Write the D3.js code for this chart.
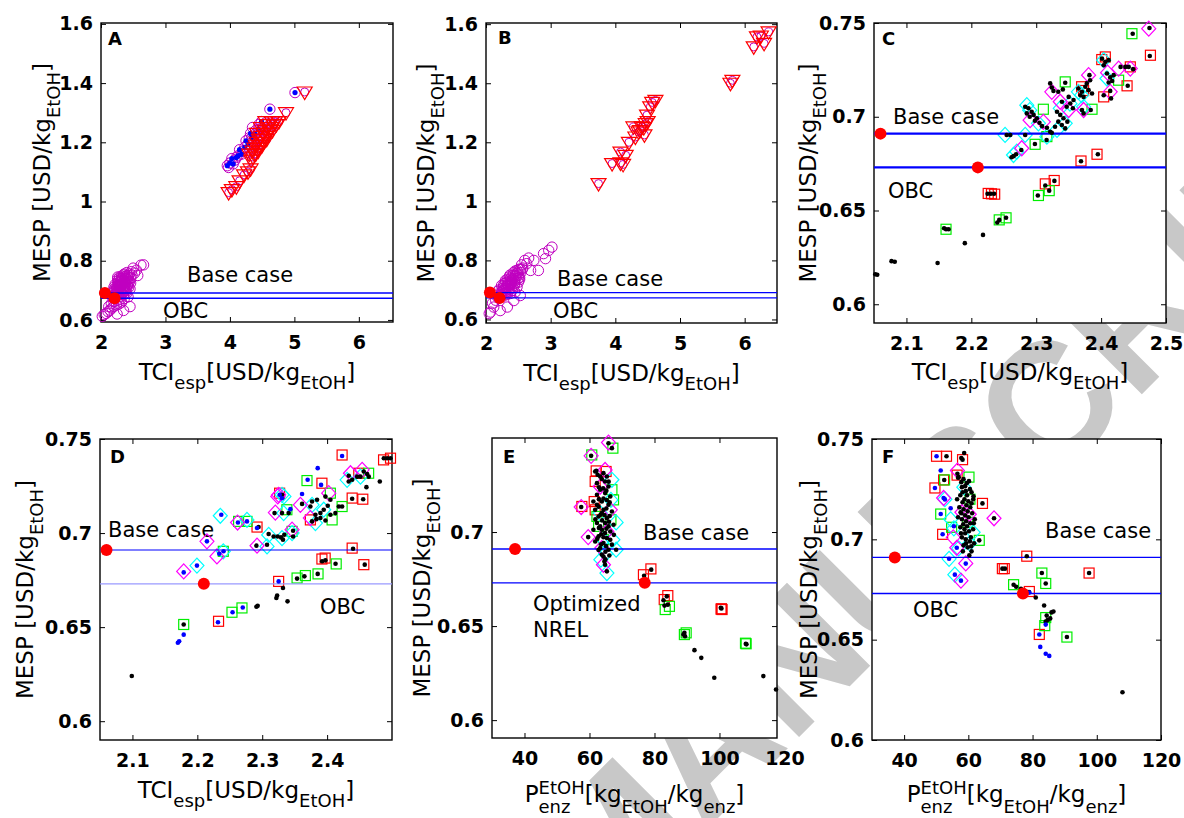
<!DOCTYPE html>
<html>
<head>
<meta charset="utf-8">
<script src="https://cdn.jsdelivr.net/npm/d3@7/dist/d3.min.js"></script>
<style>
body { margin: 0; background: #fff; }
text { font-family: "DejaVu Sans", sans-serif; }
.tick text { font-family: "DejaVu Sans", sans-serif !important; font-size: 19px !important; font-weight: bold !important; }
</style>
</head>
<body>
<script>
// reference cases: base case and optimized base case (OBC)
var mespRef = [0.691, 0.673];
var tciRef = [2.06, 2.21];
var penzRef = [37.1, 77];

// tick values
var tciTicksWide = [2, 3, 4, 5, 6];
var mespTicksWide = [0.6, 0.8, 1, 1.2, 1.4, 1.6];
var tciTicksC = [2.1, 2.2, 2.3, 2.4, 2.5];
var tciTicksD = [2.1, 2.2, 2.3, 2.4];
var mespTicksNarrow = [0.6, 0.65, 0.7, 0.75];
var mespTicksE = [0.6, 0.65, 0.7];
var penzTicks = [40, 60, 80, 100, 120];

// panel A  [TCI, MESP]
var aCirclesLow = [[2.02,0.612],[2.05,0.618],[2.08,0.622],[2.11,0.628],[2.14,0.633],[2.17,0.64],[2.2,0.646],[2.24,0.65],[2.28,0.654],[2.32,0.66],[2.12,0.645],[2.16,0.655],[2.2,0.662],[2.25,0.666],[2.3,0.67],[2.36,0.672],[2.42,0.678],[2.18,0.676],[2.22,0.682],[2.27,0.686],[2.32,0.689],[2.38,0.692],[2.2,0.694],[2.25,0.699],[2.3,0.703],[2.35,0.706],[2.4,0.708],[2.24,0.71],[2.28,0.714],[2.33,0.718],[2.38,0.721],[2.43,0.724],[2.27,0.726],[2.31,0.73],[2.36,0.734],[2.41,0.737],[2.46,0.74],[2.33,0.742],[2.38,0.746],[2.43,0.75],[2.48,0.752],[2.52,0.758],[2.47,0.763],[2.55,0.768],[2.5,0.775],[2.62,0.785],[2.22,0.72],[2.26,0.738],[2.45,0.705],[2.4,0.69],[2.35,0.685],[2.3,0.695],[2.34,0.725],[2.29,0.745],[2.44,0.73],[2.25,0.62],[2.35,0.632],[2.45,0.645],[2.57,0.75],[2.66,0.786],
  [2.21,0.705],[2.23,0.69],[2.26,0.715],[2.29,0.708],[2.31,0.722],[2.33,0.7],[2.36,0.716],[2.37,0.728],[2.39,0.74],[2.41,0.715],[2.34,0.736],[2.27,0.695],[2.24,0.678],[2.3,0.68],[2.42,0.744],[2.44,0.755],[2.4,0.76],[2.35,0.752],[2.28,0.735],[2.32,0.748],[2.26,0.73],[2.2,0.71],[2.38,0.7],[2.43,0.71],[2.46,0.725],
  [2.22,0.7],[2.25,0.705],[2.28,0.71],[2.31,0.715],[2.34,0.71],[2.37,0.71],[2.35,0.73],[2.32,0.74],[2.3,0.72],[2.27,0.72],[2.24,0.69],[2.29,0.69],[2.33,0.69],[2.36,0.695],[2.39,0.73],[2.42,0.735],[2.36,0.755],[2.4,0.75],[2.3,0.73],[2.26,0.745]];
var aCirclesHigh = [[3.96,1.121],[3.98,1.115],[4.0,1.13],[4.05,1.127],[4.03,1.145],[4.08,1.14],[4.1,1.149],[4.13,1.155],[4.18,1.16],[4.15,1.175],[4.2,1.17],[4.23,1.183],[4.28,1.194],[4.25,1.205],[4.3,1.215],[4.34,1.216],[4.32,1.23],[4.39,1.228],[4.35,1.25],[4.4,1.24],[4.44,1.244],[4.45,1.26],[4.49,1.27],[4.62,1.312],[5.01,1.368]];
var aBlue = [[3.96,1.121],[4.0,1.13],[4.05,1.127],[4.03,1.145],[4.1,1.149],[4.13,1.155],[4.18,1.16],[4.15,1.175],[4.23,1.183],[4.28,1.194],[4.25,1.205],[4.34,1.216],[4.32,1.23],[4.39,1.228],[4.44,1.244],[4.49,1.27],[4.62,1.312],[5.01,1.368]];
var aTri = [[3.98,1.03],[4.03,1.04],[4.1,1.05],[4.15,1.07],[4.22,1.09],[4.28,1.1],[4.32,1.11],[4.3,1.16],[4.35,1.17],[4.38,1.18],[4.4,1.19],[4.42,1.2],[4.45,1.21],[4.48,1.22],[4.5,1.21],[4.52,1.23],[4.55,1.24],[4.58,1.25],[4.6,1.26],[4.65,1.27],[4.7,1.27],[4.45,1.18],[4.38,1.16],[4.5,1.19],[4.55,1.22],[4.62,1.24],[4.68,1.26],[4.42,1.23],[4.48,1.25],[4.55,1.27],[4.87,1.3],[5.16,1.37],
  [4.33,1.14],[4.36,1.15],[4.4,1.16],[4.44,1.17],[4.47,1.19],[4.52,1.2],[4.57,1.21],[4.6,1.23],[4.64,1.25],[4.72,1.26],[4.76,1.27],[4.66,1.24]];

// panel B
var bCircles = [[2.05,0.62],[2.07,0.625],[2.12,0.642],[2.22,0.63],[2.33,0.642],[2.43,0.664],[2.53,0.681],[2.1,0.655],[2.15,0.665],[2.2,0.672],[2.26,0.678],[2.32,0.684],[2.38,0.688],[2.45,0.692],[2.18,0.686],[2.24,0.692],[2.3,0.697],[2.36,0.702],[2.42,0.706],[2.2,0.7],[2.26,0.706],[2.32,0.712],[2.38,0.718],[2.44,0.722],[2.5,0.726],[2.28,0.722],[2.34,0.728],[2.4,0.733],[2.46,0.738],[2.52,0.742],[2.36,0.744],[2.42,0.75],[2.48,0.755],[2.54,0.759],[2.45,0.764],[2.51,0.77],[2.57,0.774],[2.55,0.785],[2.63,0.789],[2.69,0.766],[2.74,0.8],[2.81,0.766],[2.89,0.823],[2.92,0.806],[2.97,0.834],[3.02,0.845],[2.6,0.8],[2.66,0.808],[2.3,0.69],[2.4,0.698],[2.48,0.71],
  [2.22,0.68],[2.28,0.688],[2.34,0.694],[2.26,0.698],[2.3,0.706],[2.36,0.712],[2.4,0.726],[2.44,0.73],[2.3,0.732],[2.38,0.74],[2.46,0.746],[2.5,0.75],[2.42,0.758],[2.48,0.766],[2.56,0.77],[2.24,0.715],[2.34,0.72],[2.18,0.695],[2.16,0.68],[2.52,0.735],
  [2.24,0.684],[2.28,0.7],[2.32,0.705],[2.35,0.716],[2.38,0.724],[2.42,0.738],[2.45,0.75],[2.49,0.76],[2.33,0.736],[2.37,0.75],[2.4,0.71],[2.44,0.716],[2.27,0.714],[2.31,0.725],[2.53,0.77],[2.5,0.74]];
var bTri = [[3.74,1.06],[3.95,1.128],[4.08,1.13],[4.12,1.125],[4.08,1.167],[4.16,1.156],[4.21,1.2],[4.31,1.218],[4.28,1.252],[4.36,1.235],[4.41,1.252],[4.38,1.24],[4.47,1.263],[4.44,1.25],[4.5,1.27],[4.49,1.292],[4.54,1.32],[4.62,1.342],[4.57,1.335],[4.45,1.225],[5.78,1.4],[5.81,1.41],[6.14,1.523],[6.19,1.557],[6.3,1.535],[6.37,1.574],[6.25,1.56]];

// panel C  [TCI, MESP]
var cBlack = [[2.052,0.616],[2.055,0.6157],[2.077,0.623],[2.082,0.6227],[2.148,0.622],[2.19,0.6326],[2.218,0.637],[2.161,0.64],[2.165,0.64],[2.158,0.6405],[2.225,0.6589],[2.23,0.6589],[2.235,0.6589],[2.24,0.6436],[2.243,0.645],[2.2535,0.6461],[2.3025,0.658],[2.314,0.6633],[2.32,0.6606],[2.328,0.6658],[2.369,0.6763],[2.395,0.68],[2.2545,0.6903],[2.26,0.6903],[2.265,0.679],[2.262,0.6784],[2.269,0.68],[2.277,0.6823],[2.283,0.6903],[2.298,0.6855],[2.316,0.6876],[2.324,0.6915],[2.283,0.7053],[2.288,0.7045],[2.293,0.7027],[2.296,0.701],[2.301,0.6992],[2.305,0.6968],[2.309,0.695],[2.298,0.6979],[2.29,0.7],[2.2855,0.7018],[2.3215,0.7178],[2.324,0.7156],[2.3266,0.7138],[2.334,0.7133],[2.341,0.7146],[2.3447,0.7181],[2.332,0.7027],[2.337,0.701],[2.342,0.6992],[2.348,0.6974],[2.3395,0.6956],[2.3447,0.6938],[2.334,0.6974],[2.329,0.6947],[2.3215,0.692],[2.3165,0.6941],[2.3396,0.708],[2.347,0.7053],[2.3525,0.7071],[2.3565,0.7045],[2.3575,0.7089],[2.35,0.7106],[2.365,0.7151],[2.3705,0.7133],[2.3756,0.716],[2.3807,0.7142],[2.386,0.7124],[2.368,0.7115],[2.373,0.7106],[2.378,0.7178],[2.383,0.7195],[2.3705,0.7036],[2.373,0.7018],[2.384,0.7036],[2.382,0.7222],[2.4014,0.731],[2.4065,0.7293],[2.4116,0.7302],[2.404,0.7275],[2.409,0.7231],[2.414,0.721],[2.417,0.7191],[2.4116,0.7183],[2.4193,0.7222],[2.414,0.7138],[2.4153,0.7098],[2.404,0.7115],[2.43,0.7266],[2.4374,0.7266],[2.4425,0.7266],[2.4493,0.7254],[2.441,0.7165],[2.4487,0.7443],[2.4745,0.7473],[2.475,0.7324]];
var cGreen = [[2.161,0.64],[2.243,0.645],[2.2535,0.6461],[2.3034,0.658],[2.32,0.6606],[2.2983,0.6853],[2.3164,0.6894],[2.3447,0.7186],[2.311,0.704],[2.386,0.704],[2.4475,0.7443],[2.427,0.7195]];
var cRed = [[2.226,0.6591],[2.231,0.6589],[2.236,0.6587],[2.314,0.6642],[2.3277,0.666],[2.369,0.6764],[2.3937,0.68],[2.476,0.7328],[2.44,0.7165],[2.404,0.7106],[2.4065,0.7319],[2.401,0.7305],[2.37,0.716],[2.445,0.7266],[2.373,0.714]];
var cCyan = [[2.252,0.6903],[2.283,0.6903],[2.265,0.6796],[2.27,0.6814],[2.2855,0.7062],[2.29,0.7035],[2.3034,0.6965],[2.3164,0.6894],[2.337,0.7045],[2.3447,0.6965],[2.332,0.693],[2.365,0.7133],[2.37,0.7115],[2.373,0.7053],[2.404,0.7302],[2.409,0.7204],[2.352,0.707]];
var cMag = [[2.2777,0.6832],[2.2906,0.6982],[2.311,0.6973],[2.324,0.7133],[2.337,0.708],[2.35,0.7036],[2.3807,0.7222],[2.427,0.7257],[2.445,0.7257],[2.4734,0.747],[2.414,0.7133],[2.373,0.7036],[2.41,0.7235]];

// panel D  [TCI, MESP]
var dBlack = [[2.099,0.624],[2.179,0.6514],[2.291,0.6608],[2.293,0.6613],[2.3218,0.6655],[2.323,0.6668],[2.332,0.6708],[2.339,0.6637],[2.3537,0.6758],[2.365,0.677],[2.3855,0.6783],[2.3923,0.685],[2.3974,0.6855],[2.413,0.6837],[2.44,0.6917],[2.458,0.6832],[2.291,0.6933],[2.3074,0.6938],[2.3099,0.6995],[2.3176,0.6982],[2.3238,0.6982],[2.329,0.6977],[2.332,0.6965],[2.334,0.6991],[2.3476,0.7012],[2.3476,0.6982],[2.319,0.7106],[2.3305,0.7106],[2.3407,0.7106],[2.3305,0.7203],[2.3614,0.7155],[2.3742,0.7141],[2.3768,0.7168],[2.3845,0.7177],[2.382,0.7097],[2.3897,0.7106],[2.3948,0.7124],[2.401,0.7145],[2.4051,0.7177],[2.3974,0.7194],[2.3768,0.7062],[2.3835,0.7074],[2.3897,0.708],[2.3974,0.7067],[2.4051,0.7097],[2.4128,0.7106],[2.418,0.7141],[2.4231,0.7141],[2.4333,0.7305],[2.4386,0.7283],[2.4333,0.7274],[2.4463,0.73],[2.4514,0.73],[2.4565,0.7327],[2.4617,0.7314],[2.4642,0.73],[2.4606,0.7244],[2.4812,0.7274],[2.4874,0.7398],[2.4925,0.7398],[2.4977,0.7398],[2.4386,0.7182],[2.4556,0.718],[2.2944,0.7032]];
var dBlue = [[2.17,0.6417],[2.172,0.6425],[2.179,0.646],[2.2318,0.6526],[2.2543,0.6579],[2.27,0.6604],[2.179,0.6791],[2.1994,0.6827],[2.2148,0.6956],[2.2369,0.7097],[2.2338,0.689],[2.2404,0.6903],[2.2626,0.7056],[2.2765,0.7062],[2.292,0.7027],[2.3253,0.6743],[2.3269,0.7203],[2.3614,0.7208],[2.37,0.7283],[2.3855,0.7345],[2.3907,0.7256],[2.4231,0.741],[2.3434,0.7127],[2.3305,0.7185]];
var dGreen = [[2.179,0.6514],[2.2534,0.6579],[2.2688,0.6602],[2.2636,0.7062],[2.2765,0.7062],[2.369,0.7279],[2.3537,0.6761],[2.3665,0.6774],[2.386,0.6783],[2.414,0.6836],[2.24,0.6903],[2.4231,0.7141],[2.4077,0.707],[2.464,0.7318],[2.405,0.7212],[2.346,0.7009],[2.338,0.7124]];
var dRed = [[2.2327,0.6531],[2.3253,0.6743],[2.392,0.6862],[2.397,0.6867],[2.4386,0.692],[2.4566,0.6832],[2.4231,0.7415],[2.392,0.7265],[2.4386,0.7186],[2.455,0.718],[2.3268,0.7212],[2.292,0.7032],[2.487,0.7389],[2.4977,0.7398],[2.3742,0.707],[2.4488,0.7318]];
var dCyan = [[2.1994,0.6827],[2.2354,0.7092],[2.24,0.6903],[2.2765,0.707],[2.3074,0.6929],[2.31,0.699],[2.3305,0.6973],[2.333,0.7106],[2.3305,0.7203],[2.346,0.7],[2.3768,0.715],[2.382,0.7053],[2.3948,0.7124],[2.4308,0.7283],[2.4514,0.73],[2.3335,0.7195]];
var dMag = [[2.179,0.6796],[2.2148,0.6956],[2.2302,0.6876],[2.262,0.7056],[2.292,0.6933],[2.3202,0.7109],[2.3253,0.7203],[2.3588,0.715],[2.346,0.7018],[2.4025,0.7212],[2.436,0.7318],[2.454,0.7336],[2.3742,0.708],[2.324,0.7195]];

// panel E  [P_enz, MESP]
var eBlack = [[65.85,0.7472],[66.9,0.7446],[60.5,0.7405],[62.1,0.7325],[57.45,0.7133],[59.6,0.6973],[79.0,0.68],[76.8,0.6768],[82.77,0.6637],[83.08,0.6609],[83.8,0.6658],[84.1,0.6614],[88.9,0.6455],[89.4,0.6446],[89.2,0.6464],[92.3,0.6372],[94.4,0.6331],[98.4,0.6225],[100.4,0.6597],[100.6,0.6594],[108.1,0.6406],[108.3,0.6403],[113.5,0.6234],[117.4,0.6163],[61.75,0.7322],[64.3,0.7313],[65.35,0.7295],[63.3,0.7295],[62.3,0.726],[64.8,0.7269],[65.85,0.7242],[63.3,0.7225],[62.3,0.7198],[64.8,0.7207],[66.4,0.7189],[61.2,0.7162],[63.8,0.7162],[65.85,0.7145],[62.3,0.7145],[61.75,0.7118],[64.3,0.7118],[66.9,0.7109],[63.8,0.7101],[62.8,0.7083],[65.35,0.7074],[62.3,0.7048],[64.8,0.7048],[67.4,0.7039],[63.3,0.703],[65.85,0.703],[61.2,0.7012],[63.8,0.7012],[66.4,0.7003],[64.8,0.6995],[62.8,0.6977],[65.35,0.6968],[66.4,0.6959],[61.75,0.695],[64.3,0.6942],[66.9,0.6933],[63.3,0.6915],[65.85,0.6906],[68.2,0.6906],[63.8,0.688],[64.3,0.687],[64.6,0.6844],[64.8,0.6826],[65.35,0.6791],
  [62.5,0.7305],[63.8,0.7282],[65.9,0.7268],[62.9,0.7238],[64.2,0.7232],[65.2,0.722],[62.9,0.7175],[64.3,0.7178],[65.3,0.717],[66.2,0.7158],[62.8,0.7135],[65.2,0.7125],[63.4,0.7092],[64.6,0.709],[66.2,0.7085],[61.8,0.7068],[63.9,0.7062],[66,0.7055],[62.9,0.7022],[65.2,0.7018],[67.5,0.6985],[63.6,0.6988],[64.3,0.6972],[62.4,0.6965],[63.6,0.6935],[65.1,0.6925],[62.8,0.6905],[64.9,0.6895],[66.1,0.6875],[64.9,0.6855]];
var eRed = [[62.06,0.7325],[61.75,0.7269],[65.1,0.7322],[57.65,0.7136],[61.45,0.7162],[61.75,0.7118],[76.6,0.6773],[78.9,0.6804],[83.0,0.6641],[84.1,0.6662],[100.5,0.659],[100.8,0.6588],[100.6,0.6592]];
var eGreen = [[67.2,0.7446],[60.7,0.741],[83.3,0.6588],[84.6,0.6605],[89.2,0.6455],[89.75,0.6464],[108.2,0.6406],[108.0,0.6409],[67.4,0.7171],[66.9,0.7225],[62.8,0.703],[64.3,0.6959],[62.3,0.7083],[66.6,0.7065]];
var eCyan = [[65.35,0.6782],[68.2,0.7051],[68.2,0.6906],[66.6,0.7171],[63.5,0.6853],[66.9,0.7278],[64.3,0.6959],[67.2,0.6959],[63.3,0.7101],[65.0,0.6885]];
var eMag = [[65.85,0.7476],[60.5,0.7405],[57.45,0.7133],[59.6,0.6973],[64.3,0.6826],[64.8,0.733],[65.35,0.7003],[63.3,0.7242],[66.4,0.7118],[63.8,0.6915]];

// panel F  [P_enz, MESP]
var fBlack = [[108.0,0.6238],[90.7,0.6513],[84.1,0.659],[84.7,0.6598],[85.5,0.6606],[85.9,0.6636],[86.5,0.664],[83.6,0.667],[84.4,0.662],[81.0,0.671],[78.9,0.6737],[76.4,0.6754],[74.9,0.6764],[74.1,0.6774],[82.9,0.6832],[84.1,0.678],[78.2,0.6916],[70.6,0.6854],[71.4,0.6854],[97.6,0.6832],[68.0,0.7105],[64.4,0.7179],[63.4,0.6995],[53.2,0.7414],[58.7,0.743],[58.2,0.7397],[57.8,0.7405],[56.6,0.7327],[56.8,0.7307],[52.5,0.7296],[57,0.731],[58.5,0.73],[59.5,0.728],[60.2,0.729],[58,0.726],[59.2,0.724],[60.5,0.725],[57.5,0.722],[58.8,0.72],[60,0.719],[61,0.718],[57.2,0.716],[58.5,0.715],[59.8,0.714],[61.2,0.713],[56.8,0.711],[58,0.71],[59.3,0.709],[60.6,0.708],[62,0.71],[57.5,0.706],[58.8,0.705],[60.2,0.704],[61.5,0.705],[58,0.701],[59.2,0.7],[60.5,0.699],[61.8,0.698],[58.5,0.697],[59.8,0.696],[61,0.694],[60.3,0.692],[59,0.703],[57.8,0.713],[56.5,0.72],
  [57.8,0.7285],[59,0.7265],[61,0.7235],[58.2,0.7235],[59.6,0.722],[61.5,0.72],[58.2,0.7185],[59.4,0.717],[60.6,0.716],[57.6,0.7135],[59,0.712],[60.1,0.711],[61.7,0.708],[58.4,0.7075],[59.6,0.7065],[57.7,0.703],[60.8,0.701],[59.3,0.698],[58.3,0.694],[60.9,0.6965],[61.6,0.7215]];
var fBlue = [[50.1,0.7414],[51.4,0.7343],[49.6,0.7256],[51.4,0.7126],[52.3,0.7206],[52.7,0.7199],[54.0,0.6903],[55.8,0.6824],[57.7,0.6794],[59.2,0.6879],[56.4,0.6958],[52.0,0.7025],[82.1,0.6526],[82.4,0.6464],[84.1,0.643],[85.2,0.6419],[84.1,0.6575],[79.0,0.6735],[55.5,0.7065],[54.5,0.7155]];
var fRed = [[50.1,0.7414],[53.2,0.7414],[58.2,0.7397],[49.6,0.7256],[52.3,0.7296],[64.4,0.7179],[78.2,0.6916],[70.6,0.6854],[71.2,0.6854],[97.6,0.6832],[82.1,0.6526],[79.0,0.674],[52.0,0.7025],[56.5,0.732]];
var fGreen = [[51.4,0.7126],[52.6,0.7296],[60.2,0.731],[63.4,0.6995],[74.1,0.6774],[82.9,0.6832],[84.1,0.678],[84.1,0.661],[83.8,0.657],[90.7,0.6513],[59.8,0.7085],[60.5,0.72],[54.8,0.706]];
var fCyan = [[54.0,0.6903],[55.8,0.6824],[52.7,0.72],[54.5,0.71],[60.4,0.698],[58.6,0.726],[55.5,0.7055],[61.5,0.7035],[57,0.6955]];
var fMag = [[68.0,0.7105],[56.6,0.7343],[52.3,0.7206],[56.4,0.6958],[59.2,0.688],[57.7,0.6794],[58,0.7135],[55.3,0.701],[60.3,0.7125]];

var svg = d3.select("body").append("svg")
    .attr("width", 1184)
    .attr("height", 818)
    .style("display", "block");

// publisher watermark, hidden by the white axes backgrounds
svg.append("text")
    .attr("transform", "translate(603,933) rotate(-45)")
    .attr("fill", "#c8c8c8")
    .attr("font-weight", "bold")
    .attr("font-size", 171)
    .style("font-family", "'Liberation Sans', Arial, sans-serif")
    .text("MANUSCRIPT");

var tciLabel = [["TCI",0],["esp",1],["[USD/kg",0],["EtOH",1],["]",0]];
var penzLabel = [["P",0],["EtOH",2],["enz",3],["[kg",0],["EtOH",1],["/kg",0],["enz",1],["]",0]];
var mespLabel = [["MESP [USD/kg",0],["EtOH",1],["]",0]];

function richText(t, parts, subSize, subDy, supDy) {
  var cur = 0, pend = 0, supLen = 0;
  parts.forEach(function (pt) {
    var m = pt[1];
    var target = (m === 1 || m === 3) ? subDy : (m === 2 ? supDy : 0);
    var ts = t.append("tspan").text(pt[0]).attr("dy", target - cur);
    cur = target;
    if (m) ts.attr("font-size", subSize);
    if (m === 3) {
      ts.attr("dx", -supLen);
      pend = Math.max(0, supLen - ts.node().getComputedTextLength());
    } else if (pend) {
      ts.attr("dx", pend);
      pend = 0;
    }
    if (m === 2) supLen = ts.node().getComputedTextLength();
  });
}

function drawPanel(p) {
  var x = d3.scaleLinear().domain(p.xd).range([p.l, p.r]);
  var y = d3.scaleLinear().domain(p.yd).range([p.b, p.t]);
  var g = svg.append("g");
  var inX = function (v) { return v >= p.xd[0] - 1e-9 && v <= p.xd[1] + 1e-9; };
  var fmt = function (d) { return String(d); };

  g.append("rect")
      .attr("x", p.l).attr("y", p.t)
      .attr("width", p.r - p.l).attr("height", p.b - p.t)
      .attr("fill", "#fff");

  var ax = [
    g.append("g").attr("transform", "translate(0," + p.b + ")")
      .call(d3.axisBottom(x).tickValues(p.xt).tickSize(-5).tickPadding(14).tickFormat(fmt)),
    g.append("g").attr("transform", "translate(0," + p.t + ")")
      .call(d3.axisTop(x).tickValues(p.xt.filter(inX)).tickSize(-5).tickFormat("")),
    g.append("g").attr("transform", "translate(" + p.l + ",0)")
      .call(d3.axisLeft(y).tickValues(p.yt).tickSize(-5).tickPadding(8).tickFormat(fmt)),
    g.append("g").attr("transform", "translate(" + p.r + ",0)")
      .call(d3.axisRight(y).tickValues(p.yt).tickSize(-5).tickFormat(""))
  ];
  ax.forEach(function (a) {
    a.select(".domain").remove();
    a.attr("font-family", null).attr("font-size", null);
    a.selectAll("line").attr("stroke", "#000");
    a.selectAll("text").attr("fill", "#000");
  });
  ax[0].selectAll(".tick").filter(function (d) { return !inX(d); }).select("line").remove();

  g.append("rect")
      .attr("x", p.l).attr("y", p.t)
      .attr("width", p.r - p.l).attr("height", p.b - p.t)
      .attr("fill", "none").attr("stroke", "#000").attr("stroke-width", 1.4);

  var xl = g.append("text")
      .attr("x", (p.l + p.r) / 2).attr("y", p.b + p.xly)
      .attr("text-anchor", "middle").attr("font-size", 23);
  richText(xl, p.xlab, 18, p.xlab === penzLabel ? 11 : 9, -8);

  var yl = g.append("text")
      .attr("transform", "translate(" + (p.l + p.ylx) + "," + ((p.t + p.b) / 2) + ") rotate(-90)")
      .attr("text-anchor", "middle").attr("font-size", 23);
  richText(yl, mespLabel, 18, 10, 0);

  g.append("text")
      .attr("x", p.l + p.letter[0]).attr("y", p.t + p.letter[1])
      .attr("font-size", 18).attr("font-weight", "bold").text(p.id);

  p.notes.forEach(function (n) {
    g.append("text").attr("x", p.l + n[1]).attr("y", p.t + n[2])
      .attr("font-size", 21).text(n[0]);
  });

  var plot = g.append("g");
  return { g: plot, x: x, y: y, p: p };
}

function rings(P, data, color, r) {
  P.g.append("g").selectAll("circle").data(data).enter().append("circle")
      .attr("cx", function (d) { return P.x(d[0]); })
      .attr("cy", function (d) { return P.y(d[1]); })
      .attr("r", r).attr("fill", "none").attr("stroke", color).attr("stroke-width", 1);
}
function dots(P, data, color, r) {
  P.g.append("g").selectAll("circle").data(data).enter().append("circle")
      .attr("cx", function (d) { return P.x(d[0]); })
      .attr("cy", function (d) { return P.y(d[1]); })
      .attr("r", r).attr("fill", color);
}
function squares(P, data, color) {
  P.g.append("g").selectAll("rect").data(data).enter().append("rect")
      .attr("x", function (d) { return P.x(d[0]) - 5; })
      .attr("y", function (d) { return P.y(d[1]) - 5; })
      .attr("width", 10).attr("height", 10)
      .attr("fill", "none").attr("stroke", color).attr("stroke-width", 1.2);
}
function diamonds(P, data, color) {
  P.g.append("g").selectAll("path").data(data).enter().append("path")
      .attr("d", function (d) {
        var cx = P.x(d[0]), cy = P.y(d[1]);
        return "M" + (cx - 7) + "," + cy + "L" + cx + "," + (cy - 7.5) + "L" + (cx + 7) + "," + cy + "L" + cx + "," + (cy + 7.5) + "Z";
      })
      .attr("fill", "none").attr("stroke", color).attr("stroke-width", 1.2);
}
function triangles(P, data, color) {
  P.g.append("g").selectAll("path").data(data).enter().append("path")
      .attr("d", function (d) {
        var cx = P.x(d[0]), cy = P.y(d[1]);
        return "M" + (cx - 7.5) + "," + (cy - 5) + "L" + (cx + 7.5) + "," + (cy - 5) + "L" + cx + "," + (cy + 7.5) + "Z";
      })
      .attr("fill", "none").attr("stroke", color).attr("stroke-width", 1.2);
}
function refLines(P, w, obcColor) {
  mespRef.forEach(function (v, i) {
    P.g.append("line")
        .attr("x1", P.p.l).attr("x2", P.p.r)
        .attr("y1", P.y(v)).attr("y2", P.y(v))
        .attr("stroke", i === 1 && obcColor ? obcColor : "#0000ff")
        .attr("stroke-width", w);
  });
}
function refDots(P, xs) {
  dots(P, xs.map(function (v, i) { return [v, mespRef[i]]; }), "#ff0000", 6);
}

var layout = [
  { id: "A", l: 101, r: 393, t: 23, b: 322, xd: [2, 6.53], yd: [0.593, 1.603], xt: tciTicksWide, yt: mespTicksWide,
    xlab: tciLabel, xly: 58, ylx: -51, letter: [7, 22], notes: [["Base case", 86, 259], ["OBC", 62, 295]] },
  { id: "B", l: 486, r: 777, t: 23, b: 323, xd: [2, 6.5], yd: [0.588, 1.604], xt: tciTicksWide, yt: mespTicksWide,
    xlab: tciLabel, xly: 58, ylx: -52, letter: [12, 21], notes: [["Base case", 71, 263], ["OBC", 67, 295]] },
  { id: "C", l: 874, r: 1166, t: 23, b: 323, xd: [2.05, 2.5], yd: [0.59, 0.75], xt: tciTicksC, yt: mespTicksNarrow,
    xlab: tciLabel, xly: 57, ylx: -58, letter: [8, 22], notes: [["Base case", 19, 101], ["OBC", 14, 175]] },
  { id: "D", l: 100, r: 392, t: 439, b: 740, xd: [2.05, 2.5], yd: [0.59, 0.75], xt: tciTicksD, yt: mespTicksNarrow,
    xlab: tciLabel, xly: 58, ylx: -67, letter: [10, 24], notes: [["Base case", 8, 98], ["OBC", 220, 175]] },
  { id: "E", l: 492, r: 777, t: 438, b: 738, xd: [30, 117.7], yd: [0.5905, 0.75], xt: penzTicks, yt: mespTicksE,
    xlab: penzLabel, xly: 64, ylx: -62, letter: [11, 25], notes: [["Base case", 151, 102], ["Optimized", 41, 173], ["NREL", 41, 199]] },
  { id: "F", l: 872, r: 1161, t: 439, b: 740, xd: [30, 120], yd: [0.6, 0.75], xt: penzTicks, yt: mespTicksNarrow,
    xlab: penzLabel, xly: 62, ylx: -55, letter: [10, 24], notes: [["Base case", 173, 99], ["OBC", 41, 178]] }
];

var P = layout.map(drawPanel);

// A
rings(P[0], aCirclesLow, "#c000c0", 5.2);
rings(P[0], aCirclesHigh, "#c000c0", 5.2);
dots(P[0], aBlue, "#0000ff", 2.6);
rings(P[0], aTri, "#c000c0", 4);
triangles(P[0], aTri, "#ff0000");
refLines(P[0], 1.6);
refDots(P[0], tciRef);

// B
rings(P[1], bCircles, "#c000c0", 5.2);
rings(P[1], bTri, "#c000c0", 4);
triangles(P[1], bTri, "#ff0000");
refLines(P[1], 1.4);
refDots(P[1], tciRef);

// C
squares(P[2], cRed, "#ff0000");
squares(P[2], cGreen, "#00ee00");
diamonds(P[2], cCyan, "#00ffff");
diamonds(P[2], cMag, "#ff00ff");
refLines(P[2], 2.4);
dots(P[2], cBlack, "#000", 2.3);
refDots(P[2], tciRef);

// D
squares(P[3], dRed, "#ff0000");
squares(P[3], dGreen, "#00ee00");
diamonds(P[3], dCyan, "#00ffff");
diamonds(P[3], dMag, "#ff00ff");
refLines(P[3], 1.2, "#9a9aff");
dots(P[3], dBlack, "#000", 2.3);
dots(P[3], dBlue, "#0000ff", 2.3);
refDots(P[3], tciRef);

// E
squares(P[4], eRed, "#ff0000");
squares(P[4], eGreen, "#00ee00");
diamonds(P[4], eCyan, "#00ffff");
diamonds(P[4], eMag, "#ff00ff");
refLines(P[4], 1.4);
dots(P[4], eBlack, "#000", 2.3);
refDots(P[4], penzRef);

// F
squares(P[5], fRed, "#ff0000");
squares(P[5], fGreen, "#00ee00");
diamonds(P[5], fCyan, "#00ffff");
diamonds(P[5], fMag, "#ff00ff");
refLines(P[5], 1.4);
dots(P[5], fBlack, "#000", 2.3);
dots(P[5], fBlue, "#0000ff", 2.3);
refDots(P[5], penzRef);
</script>
</body>
</html>
